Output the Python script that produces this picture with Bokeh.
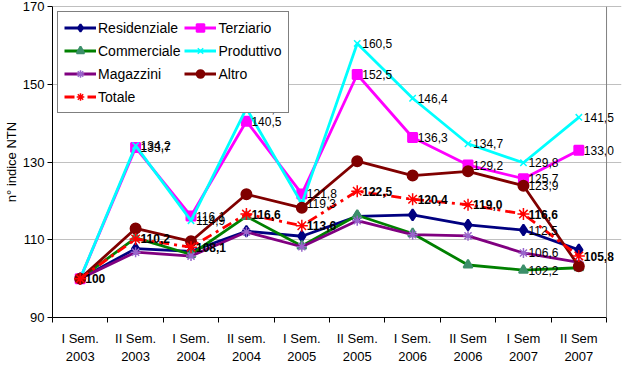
import math
from bokeh.plotting import figure
from bokeh.models import FixedTicker, Legend, LegendItem, Span
from bokeh.core.properties import value
from bokeh.embed import file_html
from bokeh.resources import INLINE

categories = ["I Sem.\n2003", "II Sem.\n2003", "I Sem.\n2004", "II sem.\n2004", "I Sem.\n2005",
              "II Sem.\n2005", "I Sem.\n2006", "II Sem\n2006", "I Sem\n2007", "II Sem\n2007"]
residenziale = [100, 107.7, 107.0, 112.2, 110.9, 116.0, 116.4, 113.8, 112.5, 107.4]
terziario = [100, 133.7, 116.1, 140.5, 121.8, 152.5, 136.3, 129.2, 125.7, 133.0]
commerciale = [100, 110.5, 106.2, 116.0, 108.4, 116.3, 111.6, 103.5, 102.2, 102.8]
produttivo = [100, 134.2, 114.9, 143.8, 119.3, 160.5, 146.4, 134.7, 129.8, 141.5]
magazzini = [100, 106.8, 105.8, 112.0, 108.2, 114.9, 111.3, 111.0, 106.6, 104.2]
altro = [100, 112.9, 109.6, 121.7, 118.2, 130.2, 126.5, 127.6, 123.9, 103.2]
totale = [100, 110.2, 108.1, 116.6, 113.6, 122.5, 120.4, 119.0, 116.6, 105.8]
y_ticks = [90, 110, 130, 150, 170]

FONT = "Liberation Sans"
n = len(categories)
xs = [i + 0.5 for i in range(n)]

p = figure(width=623, height=366, output_backend="svg", toolbar_location=None,
           x_range=(0, n + 0.27), y_range=(90, 170),
           min_border_left=44, min_border_right=2, min_border_top=6, min_border_bottom=44)
p.background_fill_color = "white"
p.outline_line_color = None
p.xgrid.grid_line_color = None
p.ygrid.grid_line_color = "#C0C0C0"
p.ygrid.ticker = FixedTicker(ticks=y_ticks[:-1])

# plot-area border (top and right) at the last category boundary
p.add_layout(Span(location=n, dimension="height", line_color="#808080", line_width=1))
p.add_layout(Span(location=170, dimension="width", line_color="#808080", line_width=1))

p.yaxis.ticker = FixedTicker(ticks=y_ticks)
p.yaxis.axis_line_color = "black"
p.yaxis.major_tick_line_color = "black"
p.yaxis.major_tick_out = 5
p.yaxis.major_tick_in = 0
p.yaxis.minor_tick_line_color = None
p.yaxis.major_label_text_font = FONT
p.yaxis.major_label_text_font_size = "13px"
p.yaxis.major_label_text_color = "black"
p.yaxis.major_label_standoff = 3
p.yaxis.axis_label = "n° indice NTN"
p.yaxis.axis_label_text_font = FONT
p.yaxis.axis_label_text_font_size = "13px"
p.yaxis.axis_label_text_font_style = "normal"
p.yaxis.axis_label_text_color = "black"
p.yaxis.axis_label_standoff = 1

p.xaxis.ticker = FixedTicker(ticks=xs, minor_ticks=list(range(n + 1)))
p.xaxis.major_label_overrides = {x: c for x, c in zip(xs, categories)}
p.xaxis.axis_line_color = "black"
p.xaxis.major_tick_line_color = None
p.xaxis.major_tick_out = 0
p.xaxis.major_tick_in = 0
p.xaxis.minor_tick_line_color = "black"
p.xaxis.minor_tick_out = 5
p.xaxis.minor_tick_in = 0
p.xaxis.major_label_text_font = FONT
p.xaxis.major_label_text_font_size = "13px"
p.xaxis.major_label_text_color = "black"
p.xaxis.major_label_standoff = 8
p.xaxis.bounds = (0, n)

series = [
    ("Residenziale", residenziale, "#000080", "diamond", "#000080", 11, "solid", 2),
    ("Terziario", terziario, "#FF00FF", "square", "#FF00FF", 9, "solid", 2),
    ("Commerciale", commerciale, "#008000", "triangle", "#3C8F6A", 9, "solid", 2),
    ("Produttivo", produttivo, "#00FFFF", "x", "#00FFFF", 9, "solid", 1.5),
    ("Magazzini", magazzini, "#800080", "asterisk", "#9966CC", 10, "solid", 1.5),
    ("Altro", altro, "#800000", "circle", "#800000", 10, "solid", 2),
    ("Totale", totale, "#FF0000", "asterisk", "#FF0000", 12, "10 5 3 5", 1.5),
]

renderers = {}
for name, vals, col, mk, mcol, sz, dash, mlw in series:
    lr = p.line(xs, vals, line_color=col, line_width=2.8, line_dash=dash)
    sr = p.scatter(xs, vals, marker=mk, size=sz, fill_color=mcol, line_color=mcol, line_width=mlw)
    renderers[name] = [lr, sr]


def fmt(v):
    return f"{v:.1f}".replace(".", ",")


lab_x, lab_y, lab_t = [], [], []
for vals in (terziario, produttivo):
    for i in range(1, len(vals)):
        lab_x.append(xs[i]); lab_y.append(vals[i]); lab_t.append(fmt(vals[i]))
for vals in (altro, residenziale, magazzini, commerciale):
    lab_x.append(xs[8]); lab_y.append(vals[8]); lab_t.append(fmt(vals[8]))
p.text(x=lab_x, y=lab_y, text=lab_t, x_offset=5, text_baseline="middle", text_align="left",
       text_font=value(FONT), text_font_size="12px", text_color="black")

bt = ["100"] + [fmt(v) for v in totale[1:]]
p.text(x=xs, y=totale, text=bt, x_offset=5, text_baseline="middle", text_align="left",
       text_font=value(FONT), text_font_size="12px", text_font_style="bold", text_color="black")

order = ["Residenziale", "Commerciale", "Magazzini", "Totale", "Terziario", "Produttivo", "Altro"]
legend = Legend(items=[LegendItem(label=k, renderers=renderers[k]) for k in order],
                location="top_left", ncols=2)
legend.border_line_color = "black"
legend.border_line_width = 1.5
legend.background_fill_alpha = 1
legend.label_text_font = FONT
legend.label_text_font_size = "14px"
legend.label_text_color = "black"
legend.glyph_width = 32
legend.glyph_height = 19
legend.spacing = 4
legend.padding = 6
legend.margin = 5
legend.label_standoff = 2
p.add_layout(legend)

open("out.html", "w").write(file_html(p, INLINE))
